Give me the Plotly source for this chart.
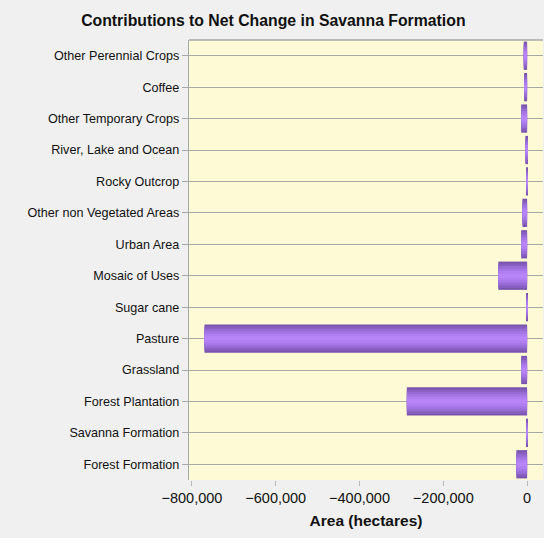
import plotly.graph_objects as go

# categories, top to bottom as in the chart
classes = ["Other Perennial Crops", "Coffee", "Other Temporary Crops",
           "River, Lake and Ocean", "Rocky Outcrop", "Other non Vegetated Areas",
           "Urban Area", "Mosaic of Uses", "Sugar cane", "Pasture", "Grassland",
           "Forest Plantation", "Savanna Formation", "Forest Formation"]
net_change = [-8000, -7000, -14000, -4000, -1500, -11000, -14000, -68600,
              -1200, -770000, -14000, -287000, -800, -25500]
x_ticks = [-800000, -600000, -400000, -200000, 0]

# fake the vertical gradient of the bars with stacked narrower bars
bands = [(0.9, "#7a53ac"), (0.78, "#875ec0"), (0.62, "#966bd4"),
         (0.46, "#a475e4"), (0.3, "#af7ef0"), (0.14, "#b785f7")]

fig = go.Figure()
for w, c in bands:
    fig.add_trace(go.Bar(x=net_change, y=classes, orientation="h", width=w,
                         marker=dict(color=c, line=dict(width=0)),
                         hoverinfo="x+y", showlegend=False))

fig.update_layout(
    barmode="overlay",
    width=550, height=544,
    margin=dict(l=189, r=7, t=40, b=64),
    paper_bgcolor="#f0f0f0",
    plot_bgcolor="#fffad6",
    font=dict(family="Liberation Sans, Arial, sans-serif", color="#111111", size=12),
    title=dict(text="<b>Contributions to Net Change in Savanna Formation</b>",
               x=0.497, xref="container", xanchor="center",
               y=0.963, yref="container", yanchor="middle",
               font=dict(size=15.8, color="#111111")),
    xaxis=dict(range=[-807000, 38000], tickvals=x_ticks, tickformat=",",
               showgrid=False, zeroline=False, showline=False,
               ticks="outside", ticklen=5, tickcolor="#b8b8b8",
               tickfont=dict(size=14.5),
               title=dict(text="<b>Area (hectares)</b>", font=dict(size=15.5), standoff=9)),
    yaxis=dict(autorange="reversed", showgrid=True, gridcolor="#a8a8a8", gridwidth=1.3,
               showline=True, linecolor="#a8a8a8", linewidth=1.3,
               ticks="outside", ticklen=6, tickcolor="#a8a8a8", tickwidth=1.3,
               tickfont=dict(size=12.6)),
    shapes=[
        # top border of the plot area
        dict(type="line", xref="paper", yref="paper", x0=0, x1=1, y0=1, y1=1,
             line=dict(color="#a8a8a8", width=1.3)),
        # white strips at the right and bottom edge of the picture
        dict(type="rect", xref="paper", yref="paper", x0=1.003, x1=1.05,
             y0=-0.2, y1=1.2, fillcolor="white", line=dict(width=0)),
        dict(type="rect", xref="paper", yref="paper", x0=-0.6, x1=1.05,
             y0=-0.2, y1=-0.132, fillcolor="white", line=dict(width=0)),
    ],
)

# the page body has a default 8px margin; drop it so the figure sits at 0,0
fig.write_html("out.html", config={"displayModeBar": False},
               post_script="document.body.style.margin='0';")
